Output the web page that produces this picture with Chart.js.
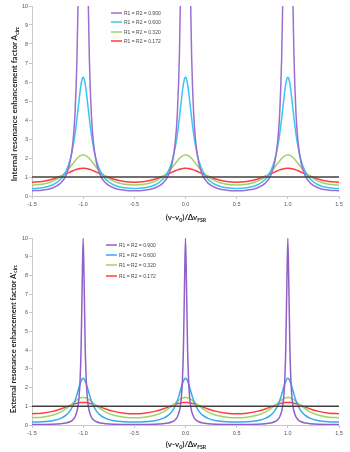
<!DOCTYPE html>
<html>
<head>
<meta charset="utf-8">
<script src="https://cdn.jsdelivr.net/npm/chart.js@4"></script>
<style>
  html, body { margin: 0; padding: 0; background: #fff; }
  #wrap { position: relative; width: 350px; height: 452px; overflow: hidden; font-family: Lato, "Liberation Sans", sans-serif; }
  canvas { position: absolute; left: 0; }
  .ttl { position: absolute; font-weight: bold; color: #222; white-space: nowrap; line-height: 1; }
  .ttl sub { font-size: 65%; vertical-align: baseline; position: relative; top: 0.3em; }
  .ytl { transform: translate(-50%, -50%) rotate(-90deg); }
  .xtl { transform: translate(-50%, -50%); font-size: 8px; }
</style>
</head>
<body>
<div id="wrap">
  <canvas id="internal" width="350" height="226" style="top:0;width:350px;height:226px"></canvas>
  <canvas id="external" width="350" height="226" style="top:226px;width:350px;height:226px"></canvas>
  <div class="ttl ytl" style="left:14px;top:104px;font-size:8px">Internal resonance enhancement factor A<sub>circ</sub></div>
  <div class="ttl xtl" style="left:186px;top:217px">(ν-ν<sub>0</sub>)/Δν<sub>FSR</sub></div>
  <div class="ttl ytl" style="left:14px;top:339px;font-size:7.5px">External resonance enhancement factor A'<sub>circ</sub></div>
  <div class="ttl xtl" style="left:186px;top:444px">(ν-ν<sub>0</sub>)/Δν<sub>FSR</sub></div>
</div>
<script>
// ── Data ────────────────────────────────────────────────────────────
const labels = ['R1 = R2 = 0.900', 'R1 = R2 = 0.600', 'R1 = R2 = 0.320', 'R1 = R2 = 0.172'];

const xs = [
  -1.5, -1.4, -1.3, -1.22, -1.17, -1.13, -1.1, -1.08, -1.06, -1.05, -1.04, -1.03, -1.02, -1.01, -1,
  -0.99, -0.98, -0.97, -0.96, -0.95, -0.94, -0.92, -0.9, -0.87, -0.83, -0.78, -0.7, -0.6, -0.5,
  -0.4, -0.3, -0.22, -0.17, -0.13, -0.1, -0.08, -0.06, -0.05, -0.04, -0.03, -0.02, -0.01, 0,
  0.01, 0.02, 0.03, 0.04, 0.05, 0.06, 0.08, 0.1, 0.13, 0.17, 0.22, 0.3, 0.4, 0.5,
  0.6, 0.7, 0.78, 0.83, 0.87, 0.9, 0.92, 0.94, 0.95, 0.96, 0.97, 0.98, 0.99, 1,
  1.01, 1.02, 1.03, 1.04, 1.05, 1.06, 1.08, 1.1, 1.13, 1.17, 1.22, 1.3, 1.4, 1.5
];

// internal enhancement A_circ
const int900 = [
  0.277, 0.306, 0.423, 0.679, 1.061, 1.73, 2.83, 4.30, 7.33, 10.19, 15.03, 23.9, 41.3, 73.8, 100,
  73.8, 41.3, 23.9, 15.03, 10.19, 7.33, 4.30, 2.83, 1.73, 1.061, 0.679, 0.423, 0.306, 0.277,
  0.306, 0.423, 0.679, 1.061, 1.73, 2.83, 4.30, 7.33, 10.19, 15.03, 23.9, 41.3, 73.8, 100,
  73.8, 41.3, 23.9, 15.03, 10.19, 7.33, 4.30, 2.83, 1.73, 1.061, 0.679, 0.423, 0.306, 0.277,
  0.306, 0.423, 0.679, 1.061, 1.73, 2.83, 4.30, 7.33, 10.19, 15.03, 23.9, 41.3, 73.8, 100,
  73.8, 41.3, 23.9, 15.03, 10.19, 7.33, 4.30, 2.83, 1.73, 1.061, 0.679, 0.423, 0.306, 0.277
];
const int600 = [
  0.391, 0.429, 0.578, 0.881, 1.279, 1.857, 2.570, 3.242, 4.094, 4.572, 5.058, 5.517, 5.901, 6.159, 6.25,
  6.159, 5.901, 5.517, 5.058, 4.572, 4.094, 3.242, 2.570, 1.857, 1.279, 0.881, 0.578, 0.429, 0.391,
  0.429, 0.578, 0.881, 1.279, 1.857, 2.570, 3.242, 4.094, 4.572, 5.058, 5.517, 5.901, 6.159, 6.25,
  6.159, 5.901, 5.517, 5.058, 4.572, 4.094, 3.242, 2.570, 1.857, 1.279, 0.881, 0.578, 0.429, 0.391,
  0.429, 0.578, 0.881, 1.279, 1.857, 2.570, 3.242, 4.094, 4.572, 5.058, 5.517, 5.901, 6.159, 6.25,
  6.159, 5.901, 5.517, 5.058, 4.572, 4.094, 3.242, 2.570, 1.857, 1.279, 0.881, 0.578, 0.429, 0.391
];
const int320 = [
  0.574, 0.617, 0.769, 1.018, 1.259, 1.505, 1.710, 1.847, 1.971, 2.025, 2.073, 2.111, 2.139, 2.157, 2.163,
  2.157, 2.139, 2.111, 2.073, 2.025, 1.971, 1.847, 1.710, 1.505, 1.259, 1.018, 0.769, 0.617, 0.574,
  0.617, 0.769, 1.018, 1.259, 1.505, 1.710, 1.847, 1.971, 2.025, 2.073, 2.111, 2.139, 2.157, 2.163,
  2.157, 2.139, 2.111, 2.073, 2.025, 1.971, 1.847, 1.710, 1.505, 1.259, 1.018, 0.769, 0.617, 0.574,
  0.617, 0.769, 1.018, 1.259, 1.505, 1.710, 1.847, 1.971, 2.025, 2.073, 2.111, 2.139, 2.157, 2.163,
  2.157, 2.139, 2.111, 2.073, 2.025, 1.971, 1.847, 1.710, 1.505, 1.259, 1.018, 0.769, 0.617, 0.574
];
const int172 = [
  0.728, 0.765, 0.880, 1.036, 1.158, 1.259, 1.331, 1.373, 1.409, 1.424, 1.436, 1.446, 1.453, 1.457, 1.459,
  1.457, 1.453, 1.446, 1.436, 1.424, 1.409, 1.373, 1.331, 1.259, 1.158, 1.036, 0.880, 0.765, 0.728,
  0.765, 0.880, 1.036, 1.158, 1.259, 1.331, 1.373, 1.409, 1.424, 1.436, 1.446, 1.453, 1.457, 1.459,
  1.457, 1.453, 1.446, 1.436, 1.424, 1.409, 1.373, 1.331, 1.259, 1.158, 1.036, 0.880, 0.765, 0.728,
  0.765, 0.880, 1.036, 1.158, 1.259, 1.331, 1.373, 1.409, 1.424, 1.436, 1.446, 1.453, 1.457, 1.459,
  1.457, 1.453, 1.446, 1.436, 1.424, 1.409, 1.373, 1.331, 1.259, 1.158, 1.036, 0.880, 0.765, 0.728
];

// external enhancement A'_circ
const ext900 = [
  0.028, 0.031, 0.042, 0.068, 0.106, 0.173, 0.283, 0.430, 0.733, 1.019, 1.503, 2.39, 4.13, 7.38, 10,
  7.38, 4.13, 2.39, 1.503, 1.019, 0.733, 0.430, 0.283, 0.173, 0.106, 0.068, 0.042, 0.031, 0.028,
  0.031, 0.042, 0.068, 0.106, 0.173, 0.283, 0.430, 0.733, 1.019, 1.503, 2.39, 4.13, 7.38, 10,
  7.38, 4.13, 2.39, 1.503, 1.019, 0.733, 0.430, 0.283, 0.173, 0.106, 0.068, 0.042, 0.031, 0.028,
  0.031, 0.042, 0.068, 0.106, 0.173, 0.283, 0.430, 0.733, 1.019, 1.503, 2.39, 4.13, 7.38, 10,
  7.38, 4.13, 2.39, 1.503, 1.019, 0.733, 0.430, 0.283, 0.173, 0.106, 0.068, 0.042, 0.031, 0.028
];
const ext600 = [
  0.156, 0.172, 0.231, 0.352, 0.512, 0.743, 1.028, 1.297, 1.638, 1.829, 2.023, 2.207, 2.360, 2.464, 2.5,
  2.464, 2.360, 2.207, 2.023, 1.829, 1.638, 1.297, 1.028, 0.743, 0.512, 0.352, 0.231, 0.172, 0.156,
  0.172, 0.231, 0.352, 0.512, 0.743, 1.028, 1.297, 1.638, 1.829, 2.023, 2.207, 2.360, 2.464, 2.5,
  2.464, 2.360, 2.207, 2.023, 1.829, 1.638, 1.297, 1.028, 0.743, 0.512, 0.352, 0.231, 0.172, 0.156,
  0.172, 0.231, 0.352, 0.512, 0.743, 1.028, 1.297, 1.638, 1.829, 2.023, 2.207, 2.360, 2.464, 2.5,
  2.464, 2.360, 2.207, 2.023, 1.829, 1.638, 1.297, 1.028, 0.743, 0.512, 0.352, 0.231, 0.172, 0.156
];
const ext320 = [
  0.390, 0.420, 0.523, 0.692, 0.856, 1.023, 1.163, 1.256, 1.340, 1.377, 1.410, 1.435, 1.455, 1.467, 1.471,
  1.467, 1.455, 1.435, 1.410, 1.377, 1.340, 1.256, 1.163, 1.023, 0.856, 0.692, 0.523, 0.420, 0.390,
  0.420, 0.523, 0.692, 0.856, 1.023, 1.163, 1.256, 1.340, 1.377, 1.410, 1.435, 1.455, 1.467, 1.471,
  1.467, 1.455, 1.435, 1.410, 1.377, 1.340, 1.256, 1.163, 1.023, 0.856, 0.692, 0.523, 0.420, 0.390,
  0.420, 0.523, 0.692, 0.856, 1.023, 1.163, 1.256, 1.340, 1.377, 1.410, 1.435, 1.455, 1.467, 1.471,
  1.467, 1.455, 1.435, 1.410, 1.377, 1.340, 1.256, 1.163, 1.023, 0.856, 0.692, 0.523, 0.420, 0.390
];
const ext172 = [
  0.603, 0.633, 0.729, 0.858, 0.959, 1.042, 1.102, 1.137, 1.167, 1.179, 1.189, 1.197, 1.203, 1.206, 1.208,
  1.206, 1.203, 1.197, 1.189, 1.179, 1.167, 1.137, 1.102, 1.042, 0.959, 0.858, 0.729, 0.633, 0.603,
  0.633, 0.729, 0.858, 0.959, 1.042, 1.102, 1.137, 1.167, 1.179, 1.189, 1.197, 1.203, 1.206, 1.208,
  1.206, 1.203, 1.197, 1.189, 1.179, 1.167, 1.137, 1.102, 1.042, 0.959, 0.858, 0.729, 0.633, 0.603,
  0.633, 0.729, 0.858, 0.959, 1.042, 1.102, 1.137, 1.167, 1.179, 1.189, 1.197, 1.203, 1.206, 1.208,
  1.206, 1.203, 1.197, 1.189, 1.179, 1.167, 1.137, 1.102, 1.042, 0.959, 0.858, 0.729, 0.633, 0.603
];

// unity reference line
const unityX = [-1.5, 1.5];
const unityY = [1, 1];

// ── Chart setup ─────────────────────────────────────────────────────
const colorsTop    = ['#9b6fcf', '#3cc4f2', '#9fd36a', '#ff3b3b'];
const colorsBottom = ['#9060c8', '#33aaee', '#9fd36a', '#ff3b3b'];
const tickFont = { family: '"Liberation Sans", sans-serif', size: 5.5 };

const pts = (x, y) => x.map((v, i) => ({ x: v, y: y[i] }));

const cornerLegend = {
  id: 'cornerLegend',
  afterDraw(chart, args, o) {
    const ctx = chart.ctx;
    ctx.save();
    ctx.font = '5px "Liberation Sans", sans-serif';
    ctx.textBaseline = 'middle';
    labels.forEach((lab, i) => {
      const y = o.rows[i];
      ctx.strokeStyle = o.colors[i];
      ctx.lineWidth = 1.5;
      ctx.beginPath();
      ctx.moveTo(o.x, y);
      ctx.lineTo(o.x + 11, y);
      ctx.stroke();
      ctx.fillStyle = '#444';
      ctx.fillText(lab, o.x + 13, y + 0.5);
    });
    ctx.restore();
  }
};

function makeChart(id, series, colors, pad, xHeight, legend) {
  const datasets = series.map((ys, i) => ({
    label: labels[i], data: pts(xs, ys), borderColor: colors[i],
    borderWidth: 1.5, pointRadius: 0, cubicInterpolationMode: 'monotone', order: 2
  }));
  datasets.push({
    label: 'unity', data: pts(unityX, unityY), borderColor: '#404040',
    borderWidth: 1.5, pointRadius: 0, order: 1
  });

  return new Chart(document.getElementById(id), {
    type: 'line',
    data: { datasets },
    options: {
      responsive: false,
      animation: false,
      events: [],
      layout: { padding: pad },
      plugins: { legend: { display: false }, tooltip: { enabled: false }, cornerLegend: legend },
      scales: {
        x: {
          type: 'linear', min: -1.5, max: 1.5,
          ticks: { stepSize: 0.5, autoSkip: false, maxRotation: 0, color: '#555', font: tickFont, padding: 2,
                   callback: v => v.toFixed(1) },
          grid: { drawOnChartArea: false, tickLength: 3, color: '#c8c8c8' },
          border: { color: '#c8c8c8' },
          afterFit: s => { s.height = xHeight; }
        },
        y: {
          min: 0, max: 10,
          ticks: { stepSize: 1, autoSkip: false, color: '#555', font: tickFont, padding: 1 },
          grid: { drawOnChartArea: false, tickLength: 3, color: '#c8c8c8' },
          border: { color: '#c8c8c8' },
          afterFit: s => { s.width = 32; }
        }
      }
    },
    plugins: [cornerLegend]
  });
}

// ── Init ────────────────────────────────────────────────────────────
makeChart('internal', [int900, int600, int320, int172], colorsTop,
  { top: 6, right: 11, bottom: 0, left: 0 }, 30,
  { x: 111, rows: [13, 22, 32, 41], colors: colorsTop });

makeChart('external', [ext900, ext600, ext320, ext172], colorsBottom,
  { top: 12, right: 11, bottom: 0, left: 0 }, 27,
  { x: 106, rows: [19, 29, 39, 50], colors: colorsBottom });
</script>
</body>
</html>
